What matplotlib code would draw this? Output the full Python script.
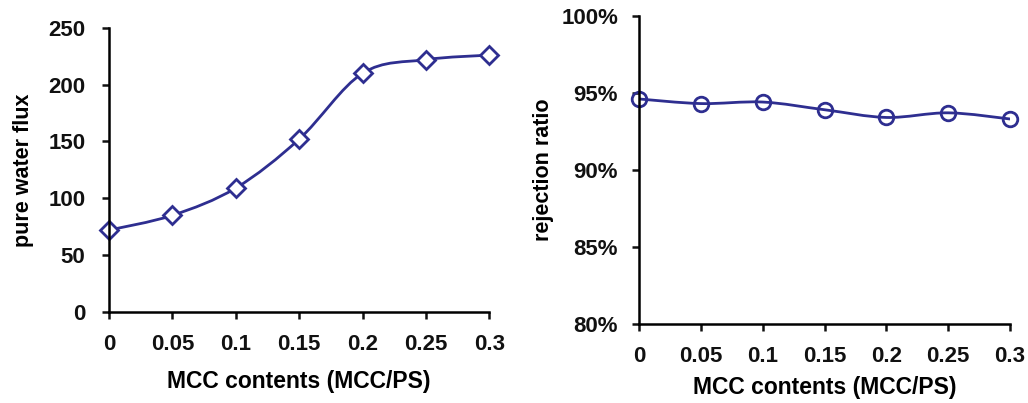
import matplotlib
matplotlib.use("Agg")
import matplotlib.pyplot as plt
from matplotlib.path import Path
from matplotlib.patches import PathPatch
from matplotlib.ticker import FuncFormatter

plt.rcParams['font.family'] = ['Liberation Sans', 'DejaVu Sans']
plt.rcParams['font.weight'] = 'bold'

# data
mcc = [0, 0.05, 0.1, 0.15, 0.2, 0.25, 0.3]
flux = [72, 85, 109, 152, 210, 222, 226]
rejection = [94.6, 94.3, 94.4, 93.9, 93.4, 93.7, 93.3]

xticks = [0, 0.05, 0.1, 0.15, 0.2, 0.25, 0.3]
xtick_labels = ['0', '0.05', '0.1', '0.15', '0.2', '0.25', '0.3']

line_col = '#2e2e90'


def smooth_path(xs, ys):
    # excel-like smoothed line: cubic bezier through the points
    pts = list(zip(xs, ys))
    verts = [pts[0]]
    codes = [Path.MOVETO]
    n = len(pts)
    for i in range(n - 1):
        p0 = pts[i - 1] if i > 0 else pts[i]
        p1 = pts[i]
        p2 = pts[i + 1]
        p3 = pts[i + 2] if i + 2 < n else pts[i + 1]
        c1 = (p1[0] + (p2[0] - p0[0]) / 6, p1[1] + (p2[1] - p0[1]) / 6)
        c2 = (p2[0] - (p3[0] - p1[0]) / 6, p2[1] - (p3[1] - p1[1]) / 6)
        verts += [c1, c2, p2]
        codes += [Path.CURVE4] * 3
    return Path(verts, codes)


def style(ax, ypad, xlabelpad):
    ax.spines['top'].set_visible(False)
    ax.spines['right'].set_visible(False)
    for s in ('left', 'bottom'):
        ax.spines[s].set_linewidth(1.8)
    ax.tick_params(direction='out', length=5, width=1.8, labelsize=16, colors='#111111')
    ax.tick_params(axis='x', pad=11)
    ax.tick_params(axis='y', pad=ypad)
    ax.set_xticks(xticks)
    ax.set_xticklabels(xtick_labels)
    ax.set_xlim(0, 0.3)
    ax.set_xlabel('MCC contents (MCC/PS)', fontsize=16.5, fontweight='bold', labelpad=xlabelpad)


fig = plt.figure(figsize=(10.28, 4.03), dpi=100)
ax1 = fig.add_axes([0.106, 0.226, 0.370, 0.705])
ax2 = fig.add_axes([0.6216, 0.196, 0.361, 0.765])

# left: pure water flux
ax1.add_patch(PathPatch(smooth_path(mcc, flux), fill=False, edgecolor=line_col, lw=2))
ax1.plot(mcc, flux, ls='none', marker='D', ms=9.5, mfc='white', mec=line_col, mew=2, clip_on=False)
ax1.set_ylim(0, 250)
ax1.set_yticks([0, 50, 100, 150, 200, 250])
ax1.set_ylabel('pure water flux', fontsize=15.5, fontweight='bold', labelpad=10)
style(ax1, 12, 11)

# right: rejection ratio
ax2.add_patch(PathPatch(smooth_path(mcc, rejection), fill=False, edgecolor=line_col, lw=2))
ax2.plot(mcc, rejection, ls='none', marker='o', ms=10.5, mfc='none', mec=line_col, mew=2, clip_on=False)
ax2.set_ylim(80, 100)
ax2.set_yticks([80, 85, 90, 95, 100])
ax2.yaxis.set_major_formatter(FuncFormatter(lambda v, p: '%d%%' % v))
ax2.set_ylabel('rejection ratio', fontsize=15.5, fontweight='bold', labelpad=5)
style(ax2, 10, 6)

fig.savefig('out.png', dpi=100)
